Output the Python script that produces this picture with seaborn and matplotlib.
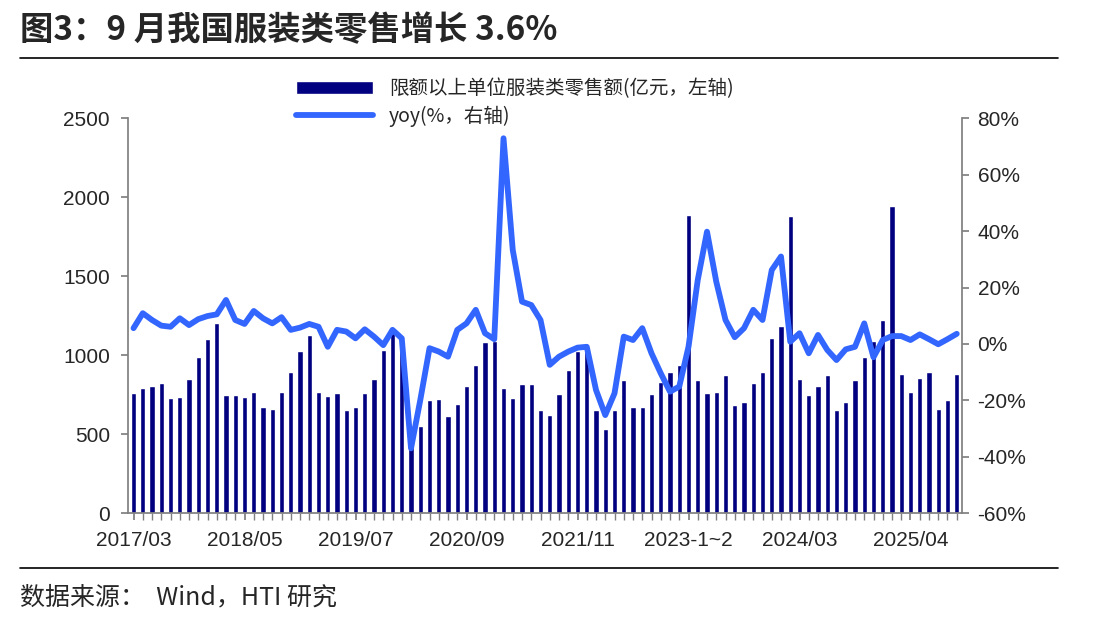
import numpy as np
import pandas as pd
import matplotlib
matplotlib.use("Agg")
import matplotlib.pyplot as plt
from matplotlib.ticker import FuncFormatter
import seaborn as sns

sns.set_theme(style="white")
plt.rcParams['font.family'] = ['Liberation Sans', 'Noto Sans CJK SC', 'DejaVu Sans']
CJK = ['Noto Sans CJK SC', 'DejaVu Sans']

# periods: Mar-Dec 2017-2022, Jan-Feb combined from 2023
periods = []
for y in range(2017, 2026):
    if y >= 2023:
        periods.append(f"{y}-1~2")
    last = 9 if y == 2025 else 12
    for m in range(3, last + 1):
        periods.append(f"{y}/{m:02d}")

sales = [761, 793, 808, 825, 730, 736, 848, 986, 1106, 1205,
         751, 751, 736, 768, 673, 663, 768, 891, 1027, 1131,
         768, 742, 758, 656, 671, 758, 848, 1036, 1140, 1090,
         480, 551, 720, 726, 614, 689, 804, 937, 1084, 1090,
         793, 730, 817, 817, 656, 624, 753, 905, 1025, 1050,
         656, 536, 656, 842, 673, 673, 753, 833, 892, 937,
         1889, 842, 761, 768, 873, 684, 705, 825, 895, 1111, 1184,
         1880, 848, 751, 808, 873, 656, 705, 842, 986, 1091, 1225,
         1945, 880, 768, 856, 895, 663, 720, 880]

yoy = [5.6, 10.9, 8.5, 6.5, 6.1, 9.1, 6.7, 8.8, 9.9, 10.5,
       15.6, 8.5, 7.1, 11.7, 9.1, 7.3, 9.5, 5.0, 5.8, 7.1,
       6.1, -1.0, 5.0, 4.4, 2.0, 5.2, 2.6, -0.4, 5.0, 2.0,
       -37.0, -19.9, -1.5, -2.7, -4.5, 5.0, 7.3, 12.1, 3.8, 1.7,
       72.9, 33.3, 15.0, 13.8, 8.5, -7.4, -4.5, -2.7, -1.3, -1.0,
       -16.3, -25.2, -17.5, 2.6, 1.4, 5.6, -3.3, -10.4, -16.9, -15.1,
       -1.0, 22.7, 39.8, 22.1, 8.5, 2.4, 5.6, 12.1, 8.5, 26.2, 31.0,
       0.8, 3.8, -3.3, 3.2, -2.1, -5.7, -1.9, -1.0, 7.3, -4.7, 1.4,
       2.8, 2.8, 1.4, 3.4, 1.7, -0.1, 1.7, 3.6]

tick_labels = ["2017/03", "2018/05", "2019/07", "2020/09", "2021/11",
               "2023-1~2", "2024/03", "2025/04"]

df = pd.DataFrame({"period": periods, "sales": sales, "yoy": yoy})
df["pos"] = np.arange(len(df))

fig = plt.figure(figsize=(11.08, 6.29), dpi=100)
ax = fig.add_axes([0.1155, 0.184, 0.753, 0.628])

sns.barplot(data=df, x="period", y="sales", color="#000080", width=0.55,
            ax=ax, saturation=1, label="限额以上单位服装类零售额(亿元，左轴)")
ax.set_ylim(0, 2500)
ax.set_yticks(range(0, 2501, 500))
ax.set_xlim(-0.6, len(df) - 0.4)
tick_pos = [periods.index(t) for t in tick_labels]
ax.set_xticks(tick_pos)
ax.set_xticklabels(tick_labels)
ax.set_xticks(df["pos"], minor=True)
ax.tick_params(axis="x", which="both", direction="out", length=5, color="#808080",
               bottom=True, labelsize=15, pad=8)
ax.tick_params(axis="y", direction="out", length=5, color="#808080", left=True,
               labelsize=15, pad=8)
ax.set_xlabel("")
ax.set_ylabel("")

ax2 = ax.twinx()
sns.lineplot(data=df, x="pos", y="yoy", color="#3366FF", linewidth=4.2, ax=ax2,
             label="yoy(%，右轴)", solid_joinstyle="round", solid_capstyle="round")
ax2.set_ylim(-60, 80)
ax2.set_yticks(range(-60, 81, 20))
ax2.yaxis.set_major_formatter(FuncFormatter(lambda v, p: f"{int(v)}%"))
ax2.tick_params(axis="y", direction="out", length=5, color="#808080", right=True,
                labelsize=15, pad=6)
ax2.set_ylabel("")
ax2.set_xlabel("")

for a in (ax, ax2):
    a.spines["top"].set_visible(False)
    for s in ("left", "right", "bottom"):
        a.spines[s].set_color("#808080")
    a.grid(False)
ax.spines["right"].set_visible(False)
ax2.spines["left"].set_visible(False)
ax2.spines["bottom"].set_visible(False)

h1, l1 = ax.get_legend_handles_labels()
h2, l2 = ax2.get_legend_handles_labels()
if ax2.get_legend():
    ax2.get_legend().remove()
leg = ax.legend(h1 + h2, l1 + l2, loc="upper left", bbox_to_anchor=(0.18, 1.145),
                frameon=False, fontsize=14, handlelength=4, labelspacing=0.3,
                prop={'family': CJK, 'size': 14})

fig.text(0.018, 0.952, "图3：9 月我国服装类零售增长 3.6%", fontsize=24, fontweight="bold",
         va="center", ha="left", family=CJK)
fig.add_artist(plt.Line2D([0.018, 0.955], [0.908, 0.908], color="black", lw=1.2))
fig.add_artist(plt.Line2D([0.018, 0.955], [0.097, 0.097], color="black", lw=1.2))
fig.text(0.018, 0.05, "数据来源：  Wind，HTI 研究", fontsize=18, va="center", ha="left",
         family=CJK)

fig.savefig("out.png", dpi=100)
